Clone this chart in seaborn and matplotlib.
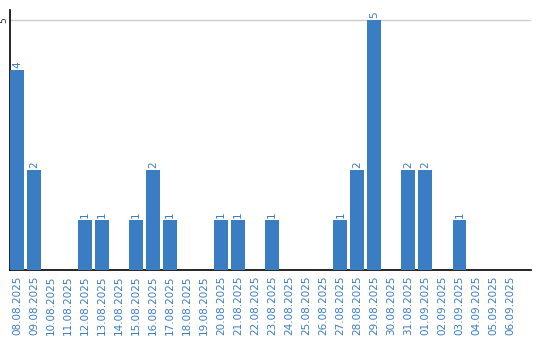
import matplotlib
matplotlib.use("Agg")
import matplotlib.pyplot as plt
import seaborn as sns
import pandas as pd

dates = ["08.08.2025", "09.08.2025", "10.08.2025", "11.08.2025", "12.08.2025",
         "13.08.2025", "14.08.2025", "15.08.2025", "16.08.2025", "17.08.2025",
         "18.08.2025", "19.08.2025", "20.08.2025", "21.08.2025", "22.08.2025",
         "23.08.2025", "24.08.2025", "25.08.2025", "26.08.2025", "27.08.2025",
         "28.08.2025", "29.08.2025", "30.08.2025", "31.08.2025", "01.09.2025",
         "02.09.2025", "03.09.2025", "04.09.2025", "05.09.2025", "06.09.2025"]
counts = [4, 2, 0, 0, 1, 1, 0, 1, 2, 1, 0, 0, 1, 1, 0, 1, 0, 0, 0, 1, 2, 5, 0, 2, 2, 0, 1, 0, 0, 0]
yticks = [5]

df = pd.DataFrame({"date": dates, "count": counts})

sns.set_style("white")
plt.rcParams['font.family'] = ['DejaVu Sans']

fig = plt.figure(figsize=(5.4, 3.4), dpi=100)
ax = fig.add_axes([10/540, 70/340, 521/540, 260/340])

blue = "#3b7dc2"
sns.barplot(data=df, x="date", y="count", color=blue, width=0.82, ax=ax,
            saturation=1, zorder=3, linewidth=0)

ax.set_ylim(0, 5.2)
ax.set_xlim(-0.41, 30.2)
ax.set_yticks(yticks)
ax.set_yticklabels([str(t) for t in yticks], rotation=90, va="center", fontsize=6.5)
ax.yaxis.grid(True, color="#cccccc", linewidth=1, zorder=0)
ax.xaxis.grid(False)
ax.tick_params(axis="y", length=0, pad=1)
ax.tick_params(axis="x", length=0, labelrotation=90, labelcolor=blue, labelsize=7.5, pad=4)
ax.set_xlabel("")
ax.set_ylabel("")

for s in ["top", "right"]:
    ax.spines[s].set_visible(False)
for s in ["left", "bottom"]:
    ax.spines[s].set_color("black")
    ax.spines[s].set_linewidth(1.2)

for i, v in enumerate(counts):
    if v > 0:
        ax.text(i, v + 0.05, str(v), rotation=90, ha="center", va="bottom",
                color=blue, fontsize=7.5)

fig.savefig("out.png", dpi=100)
